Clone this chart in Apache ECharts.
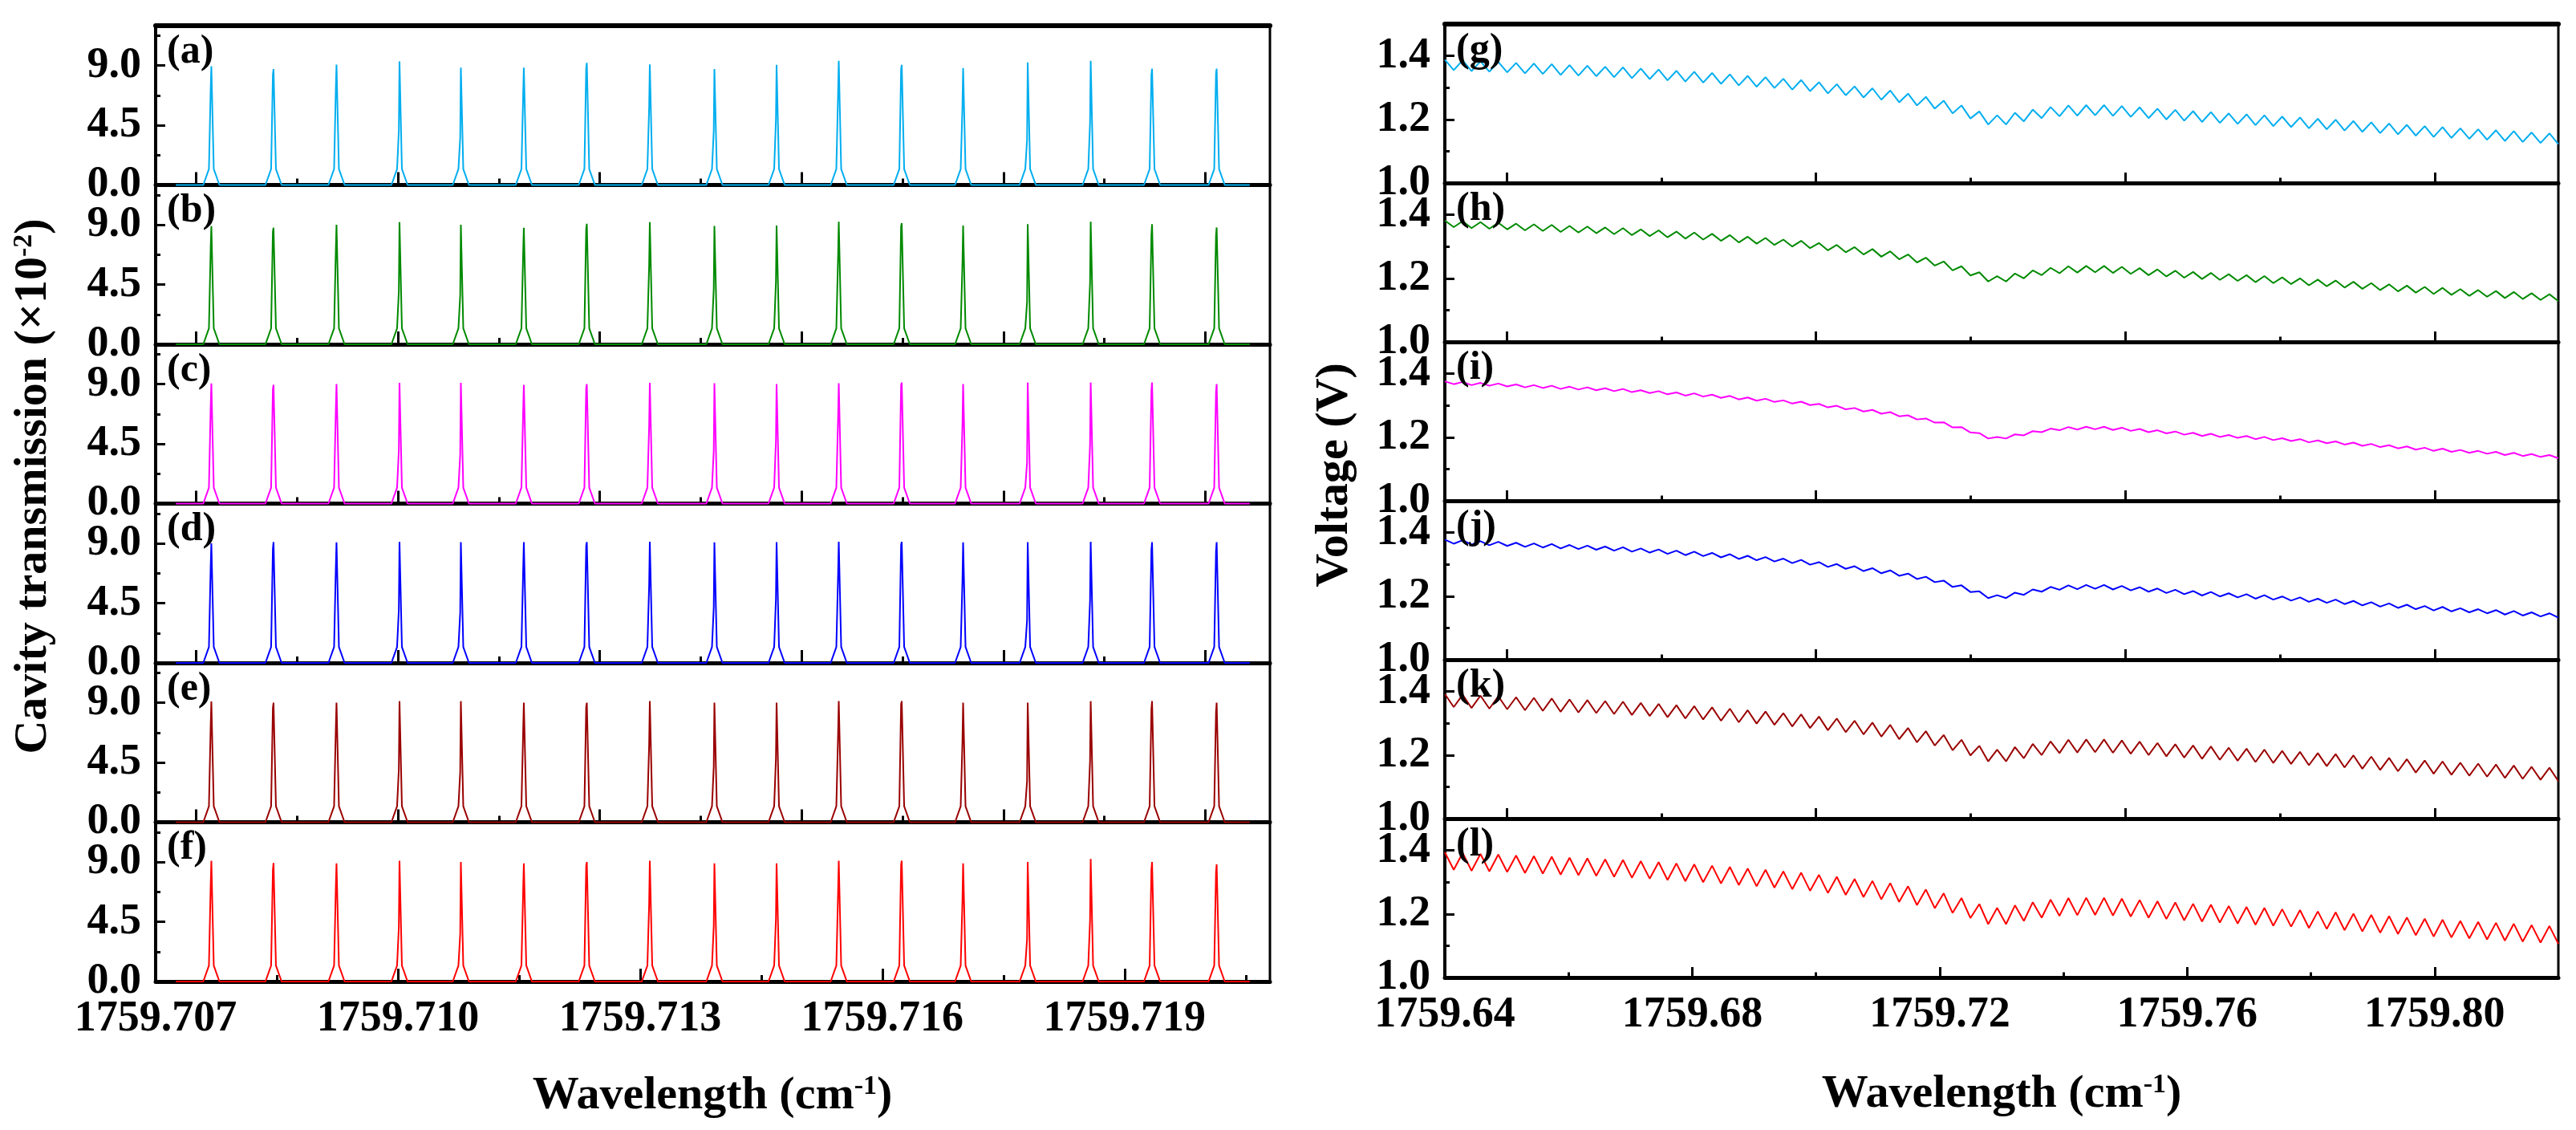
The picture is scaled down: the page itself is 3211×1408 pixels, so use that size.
<!DOCTYPE html>
<html>
<head>
<meta charset="utf-8">
<title>Cavity transmission / Voltage</title>
<script src="https://cdn.jsdelivr.net/npm/echarts@6/dist/echarts.min.js"></script>
<style>
  html, body { margin: 0; padding: 0; background: #fff; }
  #chart { width: 3211px; height: 1408px; }
</style>
</head>
<body>
<div id="chart"></div>
<script>
// ---- left column: cavity transmission peaks (x10^-2) ----
const peakCenters = [1759.70769, 1759.70846, 1759.70924, 1759.71002, 1759.71078, 1759.71156, 1759.71234, 1759.71312,
  1759.71392, 1759.71469, 1759.71546, 1759.71624, 1759.71700, 1759.71780, 1759.71858, 1759.71934, 1759.72014];
const topsA = [8.95, 8.73, 9.06, 9.31, 8.84, 8.84, 9.2, 9.08, 8.73, 9.05, 9.36, 9.05, 8.81, 9.24, 9.36, 8.76, 8.76];
const subsA = [7.3, 8.3, 7.4, 4.1, 3.6, 6.9, 8.8, 5.9, 4.1, 4.9, 7.0, 8.7, 6.0, 3.4, 4.7, 8.3, 8.4];
const topsB = [8.9, 8.78, 9.0, 9.2, 9.0, 8.78, 9.08, 9.2, 8.92, 8.95, 9.24, 9.12, 8.95, 9.05, 9.24, 9.05, 8.8];
const subsB = [7.3, 8.5, 7.2, 4.0, 3.7, 7.0, 8.7, 6.0, 4.2, 4.7, 6.7, 8.9, 6.1, 3.2, 4.6, 8.2, 8.2];
const topsC = [9.05, 8.95, 9.0, 9.1, 9.1, 8.95, 9.0, 9.1, 9.07, 9.0, 9.07, 9.12, 9.0, 9.12, 9.12, 9.12, 9.0];
const subsC = [7.3, 8.6, 7.2, 4.0, 3.7, 7.1, 8.7, 5.9, 4.0, 4.7, 6.5, 8.9, 5.9, 3.1, 4.4, 8.5, 8.4];
const topsD = [9.0, 9.1, 9.08, 9.12, 9.1, 9.1, 9.1, 9.12, 9.08, 9.1, 9.12, 9.12, 9.08, 9.1, 9.12, 9.1, 9.1];
const subsD = [7.3, 8.6, 7.3, 4.0, 3.8, 7.1, 8.8, 5.9, 4.2, 4.8, 6.7, 8.9, 6.2, 3.2, 4.7, 8.5, 8.4];
const topsE = [9.1, 9.0, 9.0, 9.12, 9.12, 9.0, 9.0, 9.12, 9.0, 9.0, 9.12, 9.12, 9.0, 9.0, 9.12, 9.12, 9.0];
const subsE = [7.3, 8.6, 7.2, 4.0, 3.8, 7.0, 8.7, 5.9, 4.2, 4.8, 6.7, 8.9, 6.1, 3.1, 4.6, 8.5, 8.3];
const topsF = [9.1, 8.93, 8.9, 9.1, 9.0, 8.9, 9.0, 9.1, 8.9, 8.9, 9.1, 9.1, 8.9, 9.0, 9.24, 9.0, 8.83];
const subsF = [7.3, 8.4, 7.2, 4.1, 3.6, 7.0, 8.7, 5.9, 4.2, 4.7, 6.8, 8.8, 6.1, 3.2, 4.6, 8.4, 8.2];
// peak outline (offsets in cm-1, levels in x10^-2)
const traceStart = 1759.70725, traceEnd = 1759.72055;
const footHalf = 0.0001, shoulderHalf = 0.00003, shoulderLevel = 1.2, subShift = 0.000008;

const leftTicksMajor = [1759.7075, 1759.710, 1759.7125, 1759.715, 1759.7175, 1759.720];
const leftTicksMinor = [1759.70875, 1759.71125, 1759.71375, 1759.71625, 1759.71875];
const leftLabels = [1759.707, 1759.710, 1759.713, 1759.716, 1759.719];
const leftLabelsMinor = [1759.7085, 1759.7115, 1759.7145, 1759.7175, 1759.7205];
const transTicks = [0, 4.5, 9.0];
const transMinor = [2.25, 6.75, 11.25];

// ---- right column: voltage (V), one sample every waveStep ----
const waveStart = 1759.64, waveStep = 0.00144;
const voltG = [1.388,1.355,1.386,1.352,1.383,1.350,1.381,1.348,1.378,1.345,1.376,1.343,1.374,1.340,1.371,1.338,1.369,1.336,1.366,1.333,
  1.364,1.330,1.360,1.327,1.357,1.323,1.353,1.319,1.350,1.316,1.346,1.312,1.342,1.307,1.337,1.303,1.333,1.299,1.328,1.294,
  1.324,1.289,1.317,1.282,1.311,1.276,1.304,1.269,1.298,1.262,1.291,1.254,1.281,1.244,1.271,1.234,1.259,1.219,1.244,1.203,
  1.225,1.184,1.213,1.184,1.221,1.194,1.231,1.204,1.239,1.210,1.244,1.212,1.245,1.213,1.245,1.211,1.242,1.208,1.238,1.204,
  1.234,1.200,1.230,1.196,1.226,1.192,1.223,1.189,1.219,1.186,1.216,1.182,1.213,1.179,1.209,1.176,1.206,1.172,1.202,1.169,
  1.199,1.165,1.195,1.161,1.191,1.157,1.187,1.153,1.183,1.149,1.179,1.145,1.176,1.142,1.172,1.139,1.169,1.136,1.166,1.132,
  1.163,1.129,1.159,1.126,1.156,1.122];
const voltH = [1.382,1.361,1.380,1.358,1.377,1.356,1.375,1.354,1.372,1.351,1.370,1.349,1.368,1.346,1.365,1.344,1.363,1.342,1.360,1.339,
  1.358,1.336,1.354,1.333,1.351,1.329,1.347,1.325,1.344,1.322,1.340,1.318,1.336,1.313,1.331,1.309,1.327,1.305,1.322,1.300,
  1.318,1.295,1.311,1.288,1.305,1.282,1.298,1.275,1.292,1.268,1.285,1.260,1.275,1.250,1.265,1.240,1.253,1.225,1.238,1.209,
  1.219,1.190,1.207,1.190,1.215,1.200,1.225,1.210,1.233,1.216,1.238,1.218,1.239,1.219,1.239,1.217,1.236,1.214,1.232,1.210,
  1.228,1.206,1.224,1.202,1.220,1.198,1.217,1.195,1.213,1.192,1.210,1.188,1.207,1.185,1.203,1.182,1.200,1.178,1.196,1.175,
  1.193,1.171,1.189,1.167,1.185,1.163,1.181,1.159,1.177,1.155,1.173,1.151,1.170,1.148,1.166,1.145,1.163,1.142,1.160,1.138,
  1.157,1.135,1.153,1.132,1.150,1.128];
const voltI = [1.376,1.367,1.374,1.364,1.371,1.362,1.369,1.360,1.366,1.357,1.364,1.355,1.362,1.352,1.359,1.350,1.357,1.348,1.354,1.345,
  1.352,1.342,1.348,1.339,1.345,1.335,1.341,1.331,1.338,1.328,1.334,1.324,1.330,1.319,1.325,1.315,1.321,1.311,1.316,1.306,
  1.312,1.301,1.305,1.294,1.299,1.288,1.292,1.281,1.286,1.274,1.279,1.266,1.269,1.256,1.259,1.246,1.247,1.231,1.232,1.215,
  1.213,1.196,1.201,1.196,1.209,1.206,1.219,1.216,1.227,1.222,1.232,1.224,1.233,1.225,1.233,1.223,1.230,1.220,1.226,1.216,
  1.222,1.212,1.218,1.208,1.214,1.204,1.211,1.201,1.207,1.198,1.204,1.194,1.201,1.191,1.197,1.188,1.194,1.184,1.190,1.181,
  1.187,1.177,1.183,1.173,1.179,1.169,1.175,1.165,1.171,1.161,1.167,1.157,1.164,1.154,1.160,1.151,1.157,1.148,1.154,1.144,
  1.151,1.141,1.147,1.138,1.144,1.134];
const voltJ = [1.378,1.365,1.376,1.362,1.373,1.360,1.371,1.358,1.368,1.355,1.366,1.353,1.364,1.350,1.361,1.348,1.359,1.346,1.356,1.343,
  1.354,1.340,1.350,1.337,1.347,1.333,1.343,1.329,1.340,1.326,1.336,1.322,1.332,1.317,1.327,1.313,1.323,1.309,1.318,1.304,
  1.314,1.299,1.307,1.292,1.301,1.286,1.294,1.279,1.288,1.272,1.281,1.264,1.271,1.254,1.261,1.244,1.249,1.229,1.234,1.213,
  1.215,1.194,1.203,1.194,1.211,1.204,1.221,1.214,1.229,1.220,1.234,1.222,1.235,1.223,1.235,1.221,1.232,1.218,1.228,1.214,
  1.224,1.210,1.220,1.206,1.216,1.202,1.213,1.199,1.209,1.196,1.206,1.192,1.203,1.189,1.199,1.186,1.196,1.182,1.192,1.179,
  1.189,1.175,1.185,1.171,1.181,1.167,1.177,1.163,1.173,1.159,1.169,1.155,1.166,1.152,1.162,1.149,1.159,1.146,1.156,1.142,
  1.153,1.139,1.149,1.136,1.146,1.132];
const voltK = [1.392,1.351,1.390,1.348,1.387,1.346,1.385,1.344,1.382,1.341,1.380,1.339,1.378,1.336,1.375,1.334,1.373,1.332,1.370,1.329,
  1.368,1.326,1.364,1.323,1.361,1.319,1.357,1.315,1.354,1.312,1.350,1.308,1.346,1.303,1.341,1.299,1.337,1.295,1.332,1.290,
  1.328,1.285,1.321,1.278,1.315,1.272,1.308,1.265,1.302,1.258,1.295,1.250,1.285,1.240,1.275,1.230,1.263,1.215,1.248,1.199,
  1.229,1.180,1.217,1.180,1.225,1.190,1.235,1.200,1.243,1.206,1.248,1.208,1.249,1.209,1.249,1.207,1.246,1.204,1.242,1.200,
  1.238,1.196,1.234,1.192,1.230,1.188,1.227,1.185,1.223,1.182,1.220,1.178,1.217,1.175,1.213,1.172,1.210,1.168,1.206,1.165,
  1.203,1.161,1.199,1.157,1.195,1.153,1.191,1.149,1.187,1.145,1.183,1.141,1.180,1.138,1.176,1.135,1.173,1.132,1.170,1.128,
  1.167,1.125,1.163,1.122,1.160,1.118];
const voltL = [1.394,1.339,1.392,1.336,1.389,1.334,1.387,1.332,1.384,1.329,1.382,1.327,1.380,1.324,1.377,1.322,1.375,1.320,1.372,1.317,
  1.370,1.314,1.366,1.311,1.363,1.307,1.359,1.303,1.356,1.300,1.352,1.296,1.348,1.291,1.343,1.287,1.339,1.283,1.334,1.278,
  1.330,1.273,1.323,1.266,1.317,1.260,1.310,1.253,1.304,1.246,1.297,1.238,1.287,1.228,1.277,1.218,1.265,1.203,1.250,1.187,
  1.231,1.168,1.219,1.168,1.227,1.178,1.237,1.188,1.245,1.194,1.250,1.196,1.251,1.197,1.251,1.195,1.248,1.192,1.244,1.188,
  1.240,1.184,1.236,1.180,1.232,1.176,1.229,1.173,1.225,1.170,1.222,1.166,1.219,1.163,1.215,1.160,1.212,1.156,1.208,1.153,
  1.205,1.149,1.201,1.145,1.197,1.141,1.193,1.137,1.189,1.133,1.185,1.129,1.182,1.126,1.178,1.123,1.175,1.120,1.172,1.116,
  1.169,1.113,1.165,1.110,1.162,1.106];

const rightTicksMajor = [1759.65, 1759.70, 1759.75, 1759.80];
const rightTicksMinor = [1759.675, 1759.725, 1759.775];
const rightLabels = [1759.64, 1759.68, 1759.72, 1759.76, 1759.80];
const rightLabelsMinor = [1759.66, 1759.70, 1759.74, 1759.78];
const voltTicks = [1.0, 1.2, 1.4];
const voltMinor = [1.1, 1.3];

const panelNames = ['(a)', '(b)', '(c)', '(d)', '(e)', '(f)', '(g)', '(h)', '(i)', '(j)', '(k)', '(l)'];
const colors = ['#00AEEF', '#008A00', '#FF00FF', '#0000FF', '#9A0000', '#FF0000'];

const FONT = 'Liberation Serif';

function peakData(tops, subs) {
  const d = [[traceStart, 0]];
  peakCenters.forEach((c, k) => {
    d.push([c - footHalf, 0], [c - shoulderHalf, shoulderLevel], [c - subShift, subs[k]], [c, tops[k]],
      [c + shoulderHalf, shoulderLevel], [c + footHalf, 0]);
  });
  d.push([traceEnd, 0]);
  return d;
}
function voltData(vals) {
  return vals.map((v, i) => [waveStart + i * waveStep, v]);
}

const leftSets = [peakData(topsA, subsA), peakData(topsB, subsB), peakData(topsC, subsC),
  peakData(topsD, subsD), peakData(topsE, subsE), peakData(topsF, subsF)];
const rightSets = [voltData(voltG), voltData(voltH), voltData(voltI), voltData(voltJ), voltData(voltK), voltData(voltL)];

const grid = [], xAxis = [], yAxis = [], series = [], graphic = [];
const tickFont = { color: '#000', fontSize: 54, fontWeight: 'bold', fontFamily: FONT };

function addPanel(o) {
  const gi = grid.length;
  grid.push({ left: o.left, top: o.top, width: o.width, height: o.height, show: true,
    borderColor: '#000', borderWidth: 3, backgroundColor: 'transparent', outerBoundsMode: 'none' });
  const xi = xAxis.length;
  xAxis.push({
    type: 'value', gridIndex: gi, position: 'bottom', min: o.xMin, max: o.xMax,
    axisLine: { onZero: false, lineStyle: { color: '#000', width: 5 } },
    axisTick: { inside: true, length: o.xTickLen, lineStyle: { color: '#000', width: 3 },
      customValues: o.bottom ? o.xLabels : o.xMajor },
    axisLabel: Object.assign({ show: o.bottom, margin: 20, customValues: o.xLabels,
      formatter: (v) => v.toFixed(o.xDigits) }, tickFont),
    splitLine: { show: false }
  });
  xAxis.push({
    type: 'value', gridIndex: gi, position: 'bottom', min: o.xMin, max: o.xMax,
    axisLine: { show: false, onZero: false },
    axisTick: { inside: true, length: o.xTickLen / 2, lineStyle: { color: '#000', width: 3 },
      customValues: o.bottom ? o.xLabelsMinor : o.xMinor },
    axisLabel: { show: false }, splitLine: { show: false }
  });
  if (o.first) {
    xAxis.push({
      type: 'value', gridIndex: gi, position: 'top', min: o.xMin, max: o.xMax,
      axisLine: { onZero: false, lineStyle: { color: '#000', width: 6 } },
      axisTick: { show: false }, axisLabel: { show: false }, splitLine: { show: false }
    });
  }
  const yi = yAxis.length;
  yAxis.push({
    type: 'value', gridIndex: gi, position: 'left', min: o.yMin, max: o.yMax,
    axisLine: { onZero: false, lineStyle: { color: '#000', width: 4 } },
    axisTick: { inside: true, length: 12, lineStyle: { color: '#000', width: 3 }, customValues: o.yMajor },
    axisLabel: Object.assign({ margin: 18, customValues: o.yMajor, formatter: (v) => v.toFixed(1) }, tickFont),
    splitLine: { show: false }
  });
  yAxis.push({
    type: 'value', gridIndex: gi, position: 'left', min: o.yMin, max: o.yMax,
    axisLine: { show: false, onZero: false },
    axisTick: { inside: true, length: 6, lineStyle: { color: '#000', width: 3 }, customValues: o.yMinor },
    axisLabel: { show: false }, splitLine: { show: false }
  });
  series.push({
    type: 'line', xAxisIndex: xi, yAxisIndex: yi, data: o.data, showSymbol: false, symbol: 'none',
    clip: false, z: 5, lineStyle: { color: o.color, width: 2 }, animation: false
  });
  graphic.push({
    type: 'text', x: o.left + 14, y: o.top + 8, z: 10,
    style: { text: o.name, fill: '#000', font: 'bold 50px "' + FONT + '"', align: 'left', verticalAlign: 'top' }
  });
}

const leftH = 198.5, rightH = 198;
for (let k = 0; k < 6; k++) {
  addPanel({
    left: 194, top: 32 + k * leftH, width: 1389, height: leftH, first: k === 0, bottom: k === 5,
    xMin: 1759.707, xMax: 1759.7208, xDigits: 3, xTickLen: 16,
    xMajor: leftTicksMajor, xMinor: leftTicksMinor, xLabels: leftLabels, xLabelsMinor: leftLabelsMinor,
    yMin: 0, yMax: 12, yMajor: transTicks, yMinor: transMinor,
    data: leftSets[k], color: colors[k], name: panelNames[k]
  });
}
for (let k = 0; k < 6; k++) {
  addPanel({
    left: 1801, top: 30 + k * rightH, width: 1388, height: rightH, first: k === 0, bottom: k === 5,
    xMin: 1759.64, xMax: 1759.82, xDigits: 2, xTickLen: 13,
    xMajor: rightTicksMajor, xMinor: rightTicksMinor, xLabels: rightLabels, xLabelsMinor: rightLabelsMinor,
    yMin: 1.0, yMax: 1.5, yMajor: voltTicks, yMinor: voltMinor,
    data: rightSets[k], color: colors[k], name: panelNames[k + 6]
  });
}

// axis titles
const titleStyle = { fill: '#000', font: 'bold 58px "' + FONT + '"', align: 'center', verticalAlign: 'middle',
  rich: { sup: { fontSize: 34, fontWeight: 'bold', fontFamily: FONT, verticalAlign: 'top', fill: '#000' } } };
graphic.push({ type: 'text', x: 888, y: 1366, style: Object.assign({ text: 'Wavelength (cm{sup|-1})' }, titleStyle) });
graphic.push({ type: 'text', x: 2495, y: 1364, style: Object.assign({ text: 'Wavelength (cm{sup|-1})' }, titleStyle) });
graphic.push({ type: 'text', x: 42, y: 606, rotation: Math.PI / 2,
  style: Object.assign({ text: 'Cavity transmission (\u00d710{sup|-2})' }, titleStyle) });
graphic.push({ type: 'text', x: 1664, y: 592, rotation: Math.PI / 2,
  style: Object.assign({ text: 'Voltage (V)' }, titleStyle) });

const chart = echarts.init(document.getElementById('chart'), null, { renderer: 'canvas' });
chart.setOption({
  backgroundColor: '#fff',
  animation: false,
  textStyle: { fontFamily: FONT },
  grid: grid,
  xAxis: xAxis,
  yAxis: yAxis,
  series: series,
  graphic: graphic
});
</script>
</body>
</html>
